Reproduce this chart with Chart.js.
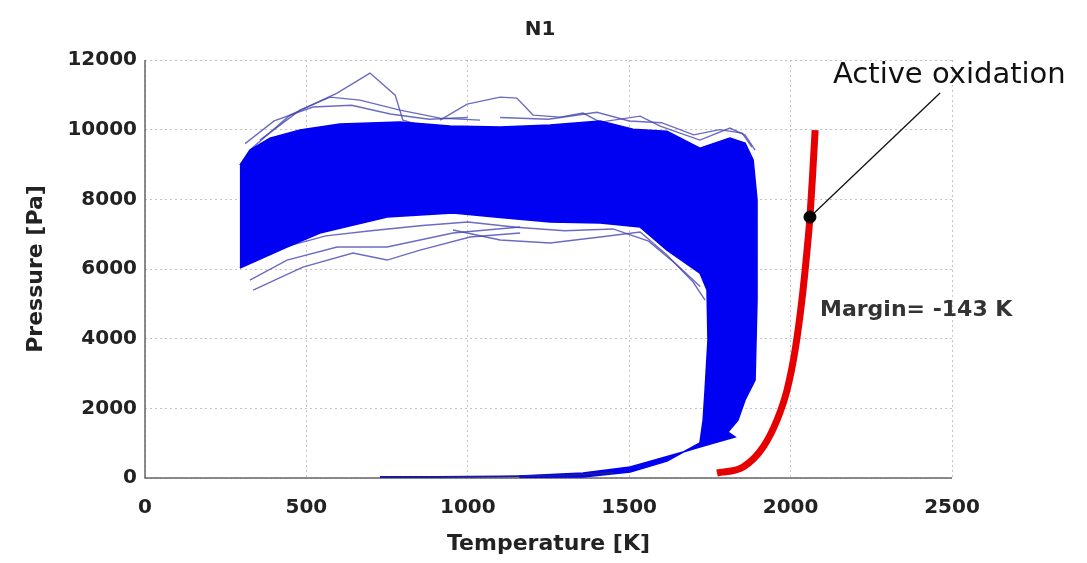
<!DOCTYPE html>
<html>
<head>
<meta charset="utf-8">
<script src="https://cdn.jsdelivr.net/npm/chart.js@4"></script>
<style>
  body { margin: 0; background: #fff; }
  #wrap { width: 1087px; height: 563px; }
</style>
</head>
<body>
<div id="wrap"><canvas id="myChart" width="1087" height="563"></canvas></div>
<script>
const ctx = document.getElementById('myChart');

// axes
const xTicks = [0, 500, 1000, 1500, 2000, 2500];
const yTicks = [0, 2000, 4000, 6000, 8000, 10000, 12000];

// outline of the dense trajectory band (upper edge, right edge, tail, lower edge)
const bandT = [294, 325, 387, 480, 604, 790, 945, 1100, 1255, 1410, 1512, 1617, 1719, 1812, 1859, 1884, 1896, 1896, 1890, 1859, 1837, 1806, 1828, 1719, 1667, 1503, 1357, 1162,
               1162, 1357, 1503, 1617, 1719, 1729, 1735, 1744, 1741, 1719, 1617, 1534, 1410, 1255, 1100, 954, 750, 542, 440, 294];
const bandP = [8983, 9414, 9758, 9988, 10160, 10217, 10102, 10074, 10131, 10246, 10015, 9958, 9471, 9758, 9615, 9127, 7979, 5109, 2813, 2239, 1665, 1320, 1177, 890, 746, 316, 144, 57,
               20, 29, 172, 488, 1005, 1665, 2526, 3961, 5396, 5884, 6544, 7204, 7319, 7350, 7480, 7606, 7491, 7032, 6630, 6027];

// thin tail near zero pressure
const tailT = [728, 900, 1100, 1300, 1450];
const tailP = [30, 30, 40, 70, 150];

// stray trajectories outside the dense band
const lineAT = [325, 449, 595, 697, 775, 799, 852];
const lineAP = [9414, 10418, 11050, 11624, 10992, 10275, 10131];
const lineBT = [356, 480, 573, 666, 790, 914, 1038];
const lineBP = [9701, 10562, 10935, 10849, 10562, 10332, 10275];
const lineCT = [914, 998, 1100, 1152, 1202, 1286, 1357, 1410, 1534, 1596, 1719, 1812, 1859, 1890];
const lineCP = [10275, 10734, 10935, 10906, 10418, 10361, 10476, 10217, 10389, 10102, 9701, 10045, 9844, 9414];
const lineDT = [335, 489, 644, 750, 852, 1007, 1162];
const lineDP = [5396, 6056, 6458, 6257, 6544, 6917, 7032];
const lineET = [325, 440, 595, 750, 954, 1162];
const lineEP = [5683, 6257, 6630, 6630, 7032, 7204];
const lineFT = [954, 1100, 1255, 1410, 1534, 1617, 1698, 1735];
const lineFP = [7118, 6831, 6745, 6917, 7060, 6400, 5625, 5109];
const lineGT = [310, 400, 520, 640, 760, 880, 1000];
const lineGP = [9600, 10250, 10650, 10700, 10450, 10300, 10350];
const lineHT = [300, 420, 560, 700, 860, 1000, 1150, 1300, 1450, 1560, 1650, 1720];
const lineHP = [6100, 6600, 6950, 7100, 7250, 7350, 7200, 7100, 7150, 6800, 6100, 5500];
const lineIT = [1100, 1250, 1400, 1500, 1600, 1700, 1780, 1850, 1880];
const lineIP = [10350, 10300, 10500, 10250, 10200, 9850, 10000, 9900, 9500];

// active oxidation boundary
const oxT = [1772, 1853, 1915, 1958, 1989, 2014, 2035, 2051, 2060, 2069, 2076];
const oxP = [144, 316, 890, 1665, 2526, 3674, 5109, 6544, 7491, 8840, 9988];

// marker and leader line
const markT = [2060];
const markP = [7491];
const leaderT = [2060, 2463];
const leaderP = [7491, 11050];

function pts(xs, ys) {
    return xs.map((x, i) => ({x: x, y: ys[i]}));
}

const strayColor = "rgba(70,70,180,0.8)";
function stray(xs, ys) {
    return {
        data: pts(xs, ys),
        borderColor: strayColor,
        borderWidth: 1.4,
        pointRadius: 0,
        fill: false,
        order: 6
    };
}

// solid left/bottom axis lines (grid stays dotted)
const axisPlugin = {
    id: "axes",
    beforeDatasetsDraw(chart) {
        const a = chart.chartArea;
        const c = chart.ctx;
        c.save();
        c.strokeStyle = "#666";
        c.lineWidth = 1.5;
        c.beginPath();
        c.moveTo(a.left, a.top);
        c.lineTo(a.left, a.bottom);
        c.lineTo(a.right, a.bottom);
        c.stroke();
        c.restore();
    }
};

const textPlugin = {
    id: "texts",
    afterDraw(chart) {
        const c = chart.ctx;
        c.save();
        c.fillStyle = "#222";
        c.font = "bold 20px 'DejaVu Sans'";
        c.textAlign = "center";
        c.textBaseline = "middle";
        c.fillText("N1", 540, 30);

        c.fillStyle = "#111";
        c.font = "29px 'DejaVu Sans'";
        c.textAlign = "left";
        c.textBaseline = "alphabetic";
        c.fillText("Active oxidation", 833, 83);

        c.fillStyle = "#333";
        c.font = "bold 22px 'DejaVu Sans'";
        c.textBaseline = "middle";
        c.fillText("Margin= -143 K", 820, 310);
        c.restore();
    }
};

const tickFont = {family: "DejaVu Sans", size: 20, weight: "bold"};
const titleFont = {family: "DejaVu Sans", size: 22, weight: "bold"};

new Chart(ctx, {
    type: 'line',
    data: {
        datasets: [
            {
                data: pts(markT, markP),
                borderColor: "#000",
                backgroundColor: "#000",
                pointRadius: 6,
                showLine: false,
                order: 0
            },
            {
                data: pts(leaderT, leaderP),
                borderColor: "#111",
                borderWidth: 1.3,
                pointRadius: 0,
                order: 1
            },
            {
                data: pts(oxT, oxP),
                borderColor: "#e60000",
                borderWidth: 7,
                pointRadius: 0,
                cubicInterpolationMode: "monotone",
                borderCapStyle: "butt",
                order: 2
            },
            {
                data: pts(tailT, tailP),
                borderColor: "#1a1a9a",
                borderWidth: 2,
                pointRadius: 0,
                order: 3
            },
            {
                data: pts(bandT, bandP),
                borderColor: "#0000f2",
                backgroundColor: "#0000f2",
                borderWidth: 1.5,
                pointRadius: 0,
                fill: "shape",
                order: 4
            },
            stray(lineAT, lineAP),
            stray(lineBT, lineBP),
            stray(lineCT, lineCP),
            stray(lineDT, lineDP),
            stray(lineET, lineEP),
            stray(lineFT, lineFP),
            stray(lineGT, lineGP),
            stray(lineHT, lineHP),
            stray(lineIT, lineIP)
        ]
    },
    options: {
        responsive: false,
        animation: false,
        layout: {padding: {left: 0, right: 135, top: 60, bottom: 0}},
        plugins: {
            legend: {display: false},
            tooltip: {enabled: false},
            title: {display: false}
        },
        scales: {
            x: {
                type: "linear",
                min: 0,
                max: 2500,
                afterBuildTicks: (scale) => { scale.ticks = xTicks.map(v => ({value: v})); },
                afterFit: (scale) => { scale.height = 85; },
                ticks: {
                    font: tickFont,
                    color: "#222",
                    padding: 18,
                    maxRotation: 0,
                    callback: (v) => String(v)
                },
                grid: {
                    color: "#c4c4c4",
                    lineWidth: 1,
                    drawTicks: false
                },
                border: {display: false, dash: [2, 3]},
                title: {
                    display: true,
                    text: "Temperature [K]",
                    font: titleFont,
                    color: "#222",
                    padding: {top: 0, bottom: 6}
                }
            },
            y: {
                type: "linear",
                min: 0,
                max: 12000,
                afterBuildTicks: (scale) => { scale.ticks = yTicks.map(v => ({value: v})); },
                afterFit: (scale) => { scale.width = 145; },
                ticks: {
                    font: tickFont,
                    color: "#222",
                    padding: 8,
                    callback: (v) => String(v)
                },
                grid: {
                    color: "#c4c4c4",
                    lineWidth: 1,
                    drawTicks: false
                },
                border: {display: false, dash: [2, 3]},
                title: {
                    display: true,
                    text: "Pressure [Pa]",
                    font: titleFont,
                    color: "#222",
                    padding: {top: 23, bottom: 0}
                }
            }
        }
    },
    plugins: [axisPlugin, textPlugin]
});
</script>
</body>
</html>
